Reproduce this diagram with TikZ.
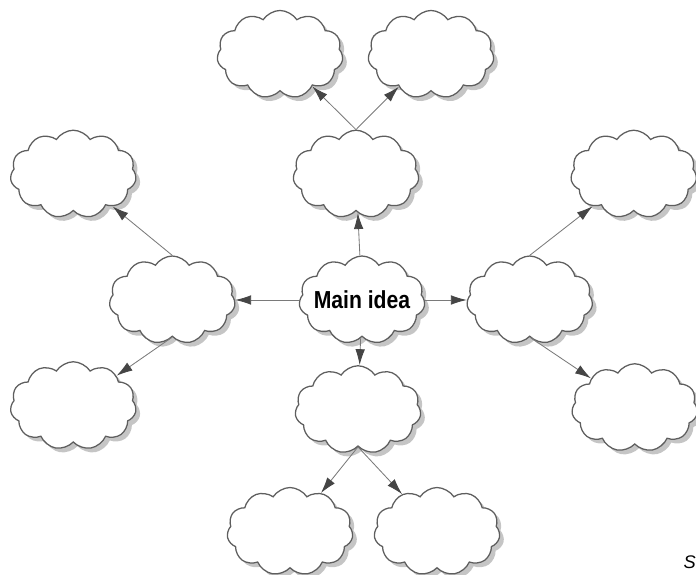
\documentclass[tikz,border=0pt]{standalone}
\usepackage{fontspec}
\newfontfamily\ideafont[FakeStretch=0.86]{Liberation Sans}
\newfontfamily\notefont{Liberation Sans}
\usetikzlibrary{shapes.symbols,shadows,positioning,arrows.meta}
\definecolor{mm-line}{HTML}{5E5E5E}
\definecolor{mm-arrow}{HTML}{7A7A7A}
\definecolor{mm-tip}{HTML}{454545}
\definecolor{mm-shadow}{HTML}{8C8C8C}

\begin{document}
\begin{tikzpicture}[
    node distance=1cm,
    >=latex
  ]
  \tikzset{
    idea/.style={cloud, cloud puffs=11, cloud puff arc=115, aspect=1.5, draw=mm-line, line width=0.9pt, fill=white, minimum width=3.15cm, minimum height=2.2cm, drop shadow={shadow xshift=3pt, shadow yshift=-3pt, fill=mm-shadow}},
    arrow/.style={-{Latex[length=4mm, width=2.4mm, color=mm-tip]}, mm-arrow, line width=0.6pt}
  }
  \useasboundingbox (-9.05,-6.875) rectangle (8.35,7.5);

  \node (main) [idea, label={[font=\ideafont\bfseries\fontsize{17.5}{20}\selectfont]center:Main idea}] {};
  \node (up) [idea, above=1.1cm of main, xshift=-0.15cm] {};
  \node (down) [idea, below=0.7cm of main, xshift=-0.1cm] {};
  \node (left) [idea, left=1.6cm of main] {};
  \node (right) [idea, right=1.05cm of main] {};

  \node (upl) [idea, above=0.95cm of up, xshift=-1.9cm] {};
  \node (upr) [idea, above=0.95cm of up, xshift=1.875cm] {};
  \node (leftu) [idea, above=1.1cm of left, xshift=-2.475cm] {};
  \node (leftd) [idea, below=0.6cm of left, xshift=-2.475cm] {};
  \node (rightu) [idea, above=1.1cm of right, xshift=2.6cm] {};
  \node (rightd) [idea, below=0.65cm of right, xshift=2.625cm] {};
  \node (downl) [idea, below=1.0cm of down, xshift=-1.7cm] {};
  \node (downr) [idea, below=1.0cm of down, xshift=1.975cm] {};

  \draw[arrow] (main) -- (up);
  \draw[arrow] (main) -- (down);
  \draw[arrow] (main) -- (left);
  \draw[arrow] (main) -- (right);

  \draw[arrow] (up.north) -- (upl);
  \draw[arrow] (up.north) -- (upr);
  \draw[arrow] (left.north) -- (leftu);
  \draw[arrow] (left.south) -- (leftd);
  \draw[arrow] (right.north) -- (rightu);
  \draw[arrow] (right.south) -- (rightd);
  \draw[arrow] (down.south) -- (downl);
  \draw[arrow] (down.south) -- (downr);

  \node (note) [font=\notefont\itshape\fontsize{13}{15}\selectfont, below right=5.5cm and 6.8cm of main] {S};
\end{tikzpicture}
\end{document}
